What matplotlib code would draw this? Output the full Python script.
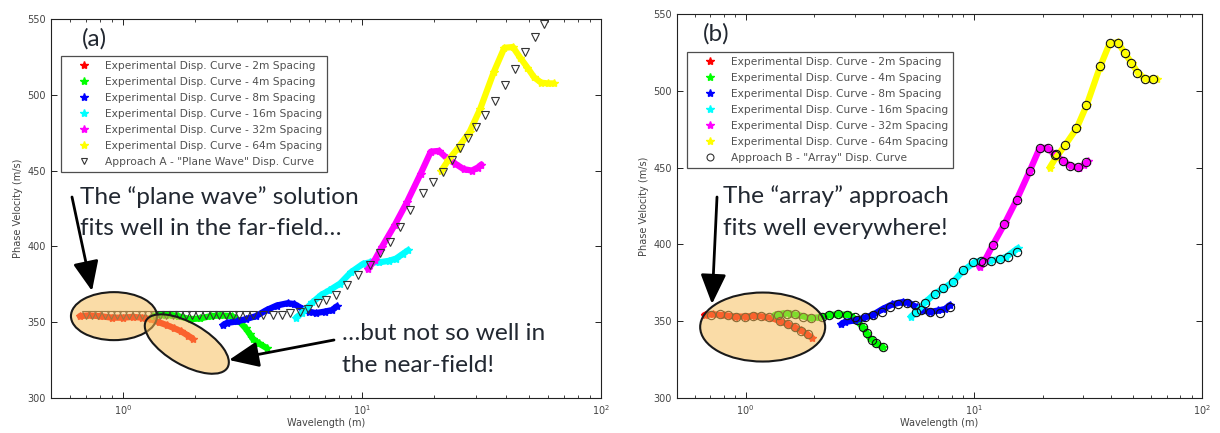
import matplotlib
matplotlib.use('Agg')
import matplotlib.pyplot as plt
from matplotlib.patches import Ellipse
from matplotlib.lines import Line2D
from matplotlib.transforms import IdentityTransform

# ---------------- data ----------------
wl_2m = [0.66, 0.72, 0.80, 0.90, 1.00, 1.10, 1.20, 1.31, 1.41, 1.53, 1.64, 1.75, 1.88, 1.96]
v_2m = [354, 354.5, 354, 353, 353, 353.5, 353, 352, 350, 348, 346, 344, 341, 339]

wl_4m = [1.34, 1.45, 1.56, 1.70, 1.91, 2.10, 2.33, 2.55, 2.86, 3.05, 3.26, 3.40, 3.50, 3.70, 3.99]
v_4m = [354, 355, 355, 354, 352, 352.5, 354, 354.5, 354, 351, 346, 342, 339, 336, 333]

wl_8m = [2.62, 2.72, 3.00, 3.26, 3.60, 3.99, 4.40, 4.88, 5.20, 5.62, 6.00, 6.41, 7.00, 7.50, 7.85]
v_8m = [348, 349.5, 350.5, 352, 354, 358, 361, 362.5, 362, 359, 357, 356, 357, 358, 360.5]

wl_16m = [5.3, 5.6, 6.2, 6.75, 7.3, 8.1, 9.0, 10.1, 10.8, 11.8, 13.0, 13.9, 14.8, 15.6]
v_16m = [353, 356, 363, 368, 371, 375.5, 383, 388.5, 389.5, 389.5, 390.5, 392, 395, 397.5]

wl_32m = [10.6, 11.3, 12.1, 13.7, 15.4, 17.6, 19.4, 21.0, 22.7, 24.6, 26.6, 28.8, 30.5, 31.6]
v_32m = [385, 391, 399.5, 414, 429, 448, 462.5, 463, 458, 454.5, 451, 450, 452, 454]

wl_64m = [21.5, 23.0, 25.1, 28.2, 31.2, 35.6, 39.4, 42.8, 45.9, 49.2, 52.5, 56.2, 60.0, 63.5]
v_64m = [450, 457, 464.5, 475.5, 490.5, 515, 531, 531.5, 524.5, 518, 511.5, 508, 507.5, 507.5]

wl_A = [0.70, 0.745, 0.79, 0.84, 0.89, 0.945, 1.0, 1.06, 1.13, 1.20, 1.27, 1.35, 1.43,
        1.52, 1.62, 1.72, 1.83, 1.95, 2.08, 2.22, 2.37, 2.53, 2.70, 2.88, 3.07, 3.27,
        3.50, 3.86, 4.25, 4.62, 5.0, 5.5, 5.96, 6.56, 7.1, 7.82, 8.65, 9.64, 10.8,
        11.9, 13.1, 14.4, 15.9, 18.0, 19.9, 21.8, 23.7, 25.7, 27.8, 30.1, 32.7, 36.0,
        39.6, 43.6, 47.9, 52.7, 57.5]
v_A = [354.5, 354.5, 354.5, 354.5, 354.5, 354.5, 354.5, 354.5, 354.5, 354.5, 354.5, 354.5, 354.5,
       354.5, 354.5, 354.5, 354.5, 354.5, 354.5, 354.5, 354.5, 354.5, 354.5, 354.5, 354.5, 354.5,
       354.5, 354.5, 355, 355, 356, 357, 359, 362.5, 364.6, 368, 374.5, 381, 387.7,
       395.4, 403, 413, 424, 435, 442.7, 449.3, 457, 464.8, 471.4, 479, 486.7, 496,
       506.5, 516.8, 528.4, 537.9, 546.7]

wl_B = [0.707, 0.769, 0.837, 0.911, 0.99, 1.077, 1.17, 1.27,
        1.41, 1.53, 1.64, 1.75, 1.88,
        1.39, 1.51, 1.64, 1.78, 1.94, 2.15, 2.33, 2.54, 2.77, 3.0,
        3.27, 3.39, 3.56, 3.74, 4.0,
        3.06, 3.33, 3.61, 3.94, 4.28, 4.66, 5.07, 5.51, 5.89, 6.42, 7.1, 7.85,
        5.6, 6.1, 6.75, 7.33, 8.1, 8.95, 9.9, 10.8, 11.9, 13.0, 14.1, 15.4,
        10.96, 12.1, 13.5, 15.4, 17.6, 19.4, 21.2, 22.7, 24.6, 26.3, 28.6, 31.1,
        23.0, 25.0, 28.0, 31.1, 35.6, 39.4, 42.9, 45.9, 48.7, 52.1, 56.2, 60.7]
v_B = [354, 354.6, 354, 353, 353, 353.4, 353.4, 353,
       350.3, 348, 346, 343.8, 341.4,
       354, 355, 354.6, 353, 351.8, 352.5, 354, 354.6, 354, 353,
       346.4, 342, 337.7, 335.6, 333.4,
       350.7, 352.5, 354, 356, 359, 361, 362, 360.5, 357, 356, 355.5, 359.4,
       356, 362, 368, 371.4, 375.7, 383.3, 388.7, 389.4, 389.4, 390.2, 392, 395,
       388.7, 399.5, 413, 429, 448, 462.5, 463, 458, 454.4, 451, 450.5, 453.7,
       459, 464.6, 475.5, 490.6, 516, 530.8, 531.2, 524.6, 518, 511.6, 508, 508]

series = [
    ("Experimental Disp. Curve - 2m Spacing", wl_2m, v_2m, "#ff0000"),
    ("Experimental Disp. Curve - 4m Spacing", wl_4m, v_4m, "#00ff00"),
    ("Experimental Disp. Curve - 8m Spacing", wl_8m, v_8m, "#0000ff"),
    ("Experimental Disp. Curve - 16m Spacing", wl_16m, v_16m, "#00ffff"),
    ("Experimental Disp. Curve - 32m Spacing", wl_32m, v_32m, "#ff00ff"),
    ("Experimental Disp. Curve - 64m Spacing", wl_64m, v_64m, "#ffff00"),
]
yticks = [300, 350, 400, 450, 500, 550]

# ---------------- figure ----------------
W, H = 1220, 433
fig = plt.figure(figsize=(W / 100, H / 100), dpi=100)
fig.patch.set_facecolor("white")


def px_rect(l, t, r, b):
    return [l / W, 1 - b / H, (r - l) / W, (b - t) / H]


axA = fig.add_axes(px_rect(51, 19, 601, 398))
axB = fig.add_axes(px_rect(677, 14, 1202, 398))

TXT = "#222831"
GREY = "#444444"

for ax in (axA, axB):
    ax.set_xscale("log")
    ax.set_xlim(0.5, 100)
    ax.set_ylim(300, 550)
    ax.set_yticks(yticks)
    ax.tick_params(which="both", direction="in", top=True, right=True,
                   labelsize=7, labelcolor=GREY, color="#222222")
    ax.tick_params(which="major", length=4, width=0.7)
    ax.tick_params(which="minor", length=2.5, width=0.6)
    for s in ax.spines.values():
        s.set_linewidth(0.8)
        s.set_color("#222222")
    ax.set_xlabel("Wavelength (m)", fontsize=7, color=GREY, labelpad=1)
    ax.set_ylabel("Phase Velocity (m/s)", fontsize=7, color=GREY, labelpad=3)
    for lab, wl, v, c in series:
        ax.plot(wl, v, color=c, lw=4.5, marker="*", ms=6, mec=c, mfc=c,
                solid_capstyle="round", solid_joinstyle="round", zorder=2)

axA.plot(wl_A, v_A, ls="none", marker="v", ms=6, mfc="none", mec="#333333",
         mew=0.8, zorder=3)
axB.plot(wl_B, v_B, ls="none", marker="o", ms=6, mfc="none", mec="#111111",
         mew=0.8, zorder=3)

# legends
handles = [Line2D([], [], ls="none", marker="*", color=c, ms=6) for _, _, _, c in series]
labels = [lab for lab, _, _, _ in series]
hA = handles + [Line2D([], [], ls="none", marker="v", ms=5, mfc="none", mec="#333333", mew=0.8)]
hB = handles + [Line2D([], [], ls="none", marker="o", ms=5, mfc="none", mec="#333333", mew=0.8)]
labA = labels + ['Approach A - "Plane Wave" Disp. Curve']
labB = labels + ['Approach B - "Array" Disp. Curve']

for ax, hs, ls_, (lx, ty) in ((axA, hA, labA, (61, 56)), (axB, hB, labB, (687, 52))):
    leg = ax.legend(hs, ls_, loc="upper left", bbox_to_anchor=(lx / W, 1 - ty / H),
                    bbox_transform=fig.transFigure, frameon=True, fancybox=False,
                    fontsize=7.7, borderpad=0.45, labelspacing=0.56, handlelength=3.4,
                    handletextpad=0.3, borderaxespad=0, numpoints=1)
    leg.get_frame().set_edgecolor("#222222")
    leg.get_frame().set_linewidth(0.9)
    for t in leg.get_texts():
        t.set_color("#505050")
    leg.set_zorder(6)

# ellipses (annotation shapes), sized in pixels
def add_ellipse(ax, wl, v, w, h, ang):
    cx, cy = ax.transData.transform((wl, v))
    e = Ellipse((cx, cy), w, h, angle=ang, transform=IdentityTransform(),
                facecolor=(0.97, 0.74, 0.34, 0.52), edgecolor="#1a1a1a", lw=1.5, zorder=5)
    fig.add_artist(e)


add_ellipse(axA, 0.917, 354, 86, 48, 0)
add_ellipse(axA, 1.85, 335.6, 94, 42, -30)
add_ellipse(axB, 1.187, 346.2, 125, 69, 0)

# arrows (figure pixel coords, y from bottom)
def arrow(x0, y0, x1, y1):
    fig.add_artist(matplotlib.patches.FancyArrowPatch(
        (x0, H - y0), (x1, H - y1), transform=IdentityTransform(),
        arrowstyle="-|>,head_length=0.65,head_width=0.28", mutation_scale=28,
        lw=2, color="black", zorder=7, shrinkA=0, shrinkB=0))


arrow(72, 197, 92, 291)
arrow(334, 340, 229, 360)
arrow(717, 197, 712, 304)

# texts
FONT = "Lato"
def ptext(x, y, s, size=17.6):
    fig.text(x, H - y, s, transform=IdentityTransform(), fontsize=size,
             family=FONT, color=TXT, va="baseline", ha="left", zorder=8)


ptext(80, 204, "The \u201cplane wave\u201d solution")
ptext(80, 235, "fits well in the far-field\u2026")
ptext(342, 340, "\u2026but not so well in")
ptext(342, 372, "the near-field!")
ptext(723, 203, "The \u201carray\u201d approach")
ptext(723, 235, "fits well everywhere!")
ptext(82, 46, "(a)", size=17.5)
ptext(703, 41, "(b)", size=17.5)

fig.savefig("out.png", dpi=100, facecolor="white")
